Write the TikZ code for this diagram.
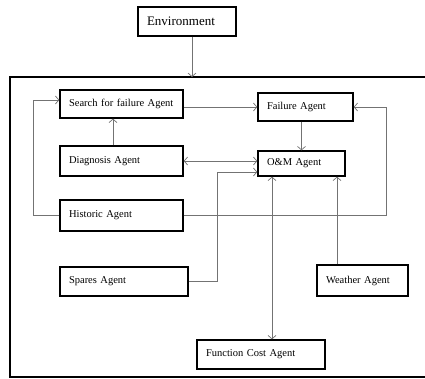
\documentclass[tikz,border=0pt]{standalone}
\usepackage{fontspec}
\setmainfont{Liberation Serif}
\usepackage{tikz}
\usetikzlibrary{arrows.meta}
\usetikzlibrary{positioning}
\definecolor{linkgrey}{rgb}{0.45,0.45,0.45}

\begin{document}
\begin{tikzpicture}[x=1pt, y=-1pt,
agent/.style ={shape=rectangle, draw=black, line width=1.3pt, inner xsep=9pt, inner ysep=0pt,
  align=left, font=\fontsize{10.5}{12}\selectfont},
link/.style ={draw=linkgrey, line width=0.7pt, -{Straight Barb[length=3.5pt,width=8pt]}},
both/.style ={link, {Straight Barb[length=3.5pt,width=8pt]}-{Straight Barb[length=3.5pt,width=8pt]}},
frame/.style ={draw=black, line width=1.3pt}]
\useasboundingbox (0,0) rectangle (425,378);
%\draw[help lines] (0,0) grid (425,378);
\node[agent, text width=80pt, minimum height=29pt, font=\fontsize{13}{15}\selectfont] (env) at (187,21.5) {Environment};
\draw[frame] (425,77) -- (10,77) -- (10,377) -- (425,377);
\node[agent, text width=105pt, minimum height=28pt] (search) at (121.5,104) {Search for failure Agent};
\node[agent, text width=77pt, minimum height=28pt] (fail) at (305.5,107) {Failure Agent};
\node[agent, text width=105pt, minimum height=30pt] (diag) at (121.5,161) {Diagnosis Agent};
\node[agent, text width=69pt, minimum height=25pt] (om) at (301.5,163.5) {O\&M Agent};
\node[agent, text width=105pt, minimum height=31pt] (hist) at (121.5,215.5) {Historic Agent};
\node[agent, text width=110pt, minimum height=29pt] (spares) at (124,281.5) {Spares Agent};
\node[agent, text width=73pt, minimum height=31pt] (weather) at (362.5,280.5) {Weather Agent};
\node[agent, text width=110pt, minimum height=29pt] (cost) at (261,354.5) {Function Cost Agent};
\coordinate (frametop) at (192,77);
\coordinate (loopL) at (33,100);
\coordinate (loopR) at (386,107);
\coordinate (bendS) at (217,172);
\coordinate (wx) at (337,0);
\coordinate (cx) at (272,0);
\draw[link] (env.south -| frametop) -- (frametop);
\draw[link] (fail.west -| search.east) -- (fail.west);
\draw[link] (hist.west) -| (loopL) -- (loopL -| search.west);
\draw[link] (hist.east) -| (loopR) -- (fail.east);
\draw[link] ([xshift=-8.5pt]diag.north) -- ([xshift=-8.5pt]search.south);
\draw[both] (diag.east) -- (diag.east -| om.west);
\draw[link] (om.north |- fail.south) -- (om.north);
\draw[link] (spares.east) -| (bendS) -- (bendS -| om.west);
\draw[link] (weather.north -| wx) -- (om.south -| wx);
\draw[both] (om.south -| cx) -- (cost.north -| cx);
\end{tikzpicture}
\end{document}
